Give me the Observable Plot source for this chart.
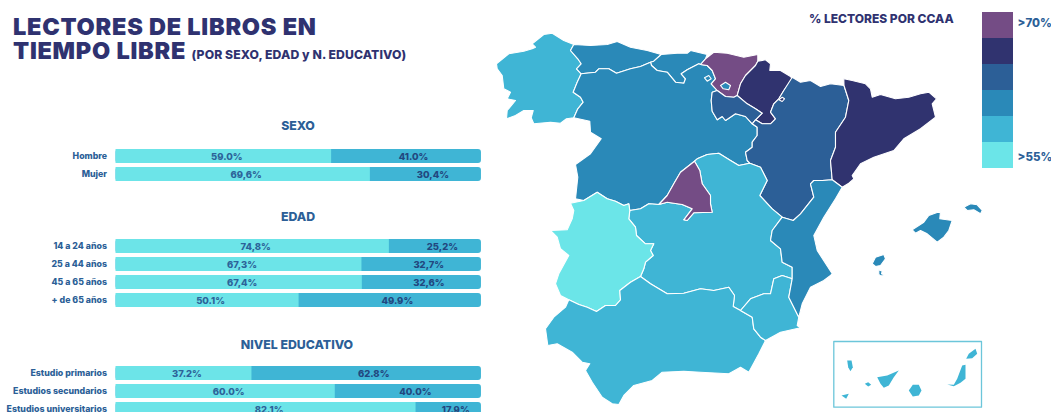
<!DOCTYPE html>
<html lang="es">
<head>
<meta charset="utf-8">
<script src="https://cdn.jsdelivr.net/npm/d3@7"></script>
<script src="https://cdn.jsdelivr.net/npm/@observablehq/plot@0.6"></script>
<style>
html,body{margin:0;padding:0;background:#fff;width:1051px;height:412px;overflow:hidden;font-family:Inter,"Open Sans",sans-serif}
#page{position:relative;width:1051px;height:412px;overflow:hidden}
#page>*{position:absolute}
svg{display:block;overflow:visible}
.title{left:13px;top:15px;font-size:23.5px;line-height:24px;font-weight:900;color:#2f3270;letter-spacing:.75px;white-space:nowrap}
.title small{font-size:12.2px;font-weight:800;letter-spacing:.1px;margin-left:0}
.head{left:115px;width:366px;text-align:center;font-size:12.3px;font-weight:800;color:#2c5f97;line-height:14px}
.lg{left:809px;top:12px;font-size:12px;font-weight:800;color:#2f3270;line-height:13px;white-space:nowrap}
</style>
</head>
<body>
<div id="page">
  <div class="title">LECTORES DE LIBROS EN<br>TIEMPO LIBRE <small>(POR SEXO, EDAD y N. EDUCATIVO)</small></div>
  <div class="head" style="top:119px">SEXO</div>
  <div class="head" style="top:210px">EDAD</div>
  <div class="head" style="top:338px;left:114px">NIVEL EDUCATIVO</div>
  <div class="lg">% LECTORES POR CCAA</div>
</div>
<script>
// ---- Bars ----
const sexoCats = ["Hombre", "Mujer"];
const sexoA = [59.0, 69.6];
const sexoB = [41.0, 30.4];
const sexoLabA = ["59.0%", "69,6%"];
const sexoLabB = ["41.0%", "30,4%"];

const edadCats = ["14 a 24 años", "25 a 44 años", "45 a 65 años", "+ de 65 años"];
const edadA = [74.8, 67.3, 67.4, 50.1];
const edadB = [25.2, 32.7, 32.6, 49.9];
const edadLabA = ["74,8%", "67,3%", "67,4%", "50.1%"];
const edadLabB = ["25,2%", "32,7%", "32,6%", "49.9%"];

const eduCats = ["Estudio primarios", "Estudios secundarios", "Estudios universitarios"];
const eduA = [37.2, 60.0, 82.1];
const eduB = [62.8, 40.0, 17.9];
const eduLabA = ["37.2%", "60.0%", "82.1%"];
const eduLabB = ["62.8%", "40.0%", "17.9%"];

const barColors = ["#6ce4e8", "#3fb5d5"];

// ---- Legend classes (top to bottom) ----
const classes = ["c6", "c5", "c4", "c3", "c2", "c1"];
const classColors = ["#744c85", "#30336f", "#2c5f97", "#2a89b8", "#3fb5d5", "#6be5e8"];
const legendTop = ["c6"];
const legendBottom = ["c1"];
const classLabels = {c6: ">70%", c1: ">55%"};

// ---- Region outlines ----
const galicia = [[531.7,43.3],[543.3,34],[551.7,32.7],[563.3,40],[573.3,44],[570,50],[577.3,58.3],[580.7,63.3],[576,68.3],[580.7,73.3],[576.7,81.7],[572.7,91.7],[580,96.7],[582.7,101.7],[577.3,108.3],[573.3,117.3],[566,118.3],[560,122.7],[550,121.7],[533.3,123.3],[530.7,117.3],[532.7,110],[523.3,110],[515,115],[506,118.3],[506.7,110],[515,100],[506.7,98.3],[510,91.7],[503.3,88.3],[501.7,75],[496.7,68.3],[496,63.3],[508.3,53.3],[523.3,50.7],[531.7,48.3],[535,46.7]];
const asturias = [[573.3,44],[590,45],[606.7,44],[616.7,41],[630,46.7],[646.7,50],[660.7,54],[653.3,60.7],[650,61.7],[640,66],[630,68.3],[616,72.7],[608.3,68.3],[598.3,68.3],[595,71.7],[580.7,73.3],[576,68.3],[580.7,63.3],[577.3,58.3],[570,50]];
const cantabria = [[660.7,54],[676.7,52.7],[686.7,52.7],[690,50],[706.7,54],[705,58.3],[700,64],[698.3,63.3],[686.7,69.3],[680.7,73.3],[685,78.3],[683.3,82.7],[675,81.7],[666.7,71.7],[656.7,70],[651,65],[650,61.7],[653.3,60.7]];
const paisVasco = [[700,64],[705,58.3],[713.3,51.7],[726.7,52.7],[743.3,56.7],[757.3,54],[757.3,60.7],[755,65],[745,75],[740,83.3],[736.7,95],[733.3,96.7],[725,96],[716.7,90],[710.7,83.3],[715,78.3],[711.7,70],[706.7,65]];
const villaverde = [[704,77.3],[708.3,75],[710.7,78.3],[706.7,80.7]];
const trevino = [[720,85],[725,81.7],[730,85],[728.3,89.3],[722.7,88.3]];
const navarra = [[757.3,60.7],[765,59.3],[770,63.3],[769.3,70],[780,70],[790,76],[791.7,78.3],[783.3,90],[778.3,98.3],[773.3,103.3],[770,111.7],[775,118.3],[770,123.3],[761.7,123.3],[755,119.3],[761.7,112.7],[755,108.3],[746.7,103.3],[736.7,95],[740,83.3],[745,75],[755,65]];
const petilla = [[778.3,99.3],[781.7,96.7],[784,98.3],[781.7,101]];
const rioja = [[711.7,91.7],[716.7,90],[725,96],[733.3,96.7],[736.7,95],[746.7,103.3],[755,108.3],[761.7,112.7],[755,119.3],[751.7,123.3],[745,116],[735,113.3],[725,120],[721.7,116],[716.7,119.3],[711.7,110.7],[710.7,100]];
const castillaLeon = [[580.7,73.3],[595,71.7],[598.3,68.3],[608.3,68.3],[616,72.7],[630,68.3],[640,66],[650,61.7],[651,65],[656.7,70],[666.7,71.7],[675,81.7],[683.3,82.7],[685,78.3],[680.7,73.3],[686.7,69.3],[698.3,63.3],[700,64],[706.7,65],[711.7,70],[715,78.3],[710.7,83.3],[716.7,90],[711.7,91.7],[710.7,100],[711.7,110.7],[716.7,119.3],[721.7,116],[725,120],[735,113.3],[745,116],[751.7,123.3],[756.7,126.7],[756.7,135],[751.7,141.7],[751.7,146.7],[745,151.7],[746.7,160],[749.3,162.7],[738.3,165],[730,160],[718.3,152.7],[706.7,154],[696.7,158.3],[694,160.7],[680,171.7],[673.3,183.3],[666.7,195],[658.3,204],[648.3,203.3],[640,208.3],[629.3,210],[628.3,203.3],[623.3,205],[615,200.7],[606.7,198.3],[596.7,191.7],[583.3,200],[575,198.3],[577.3,176.7],[575,164],[590,153.3],[600.7,138.3],[590,131.7],[589.3,120.7],[573.3,117.3],[577.3,108.3],[582.7,101.7],[580,96.7],[572.7,91.7],[576.7,81.7]];
const madrid = [[694,160.7],[699.3,170],[701.7,183.3],[710,195],[710,203.3],[711.7,211.7],[693.3,212.3],[686.7,220],[683.3,219.3],[691.7,208.3],[681.7,204],[666.7,201.7],[658.3,204],[666.7,195],[673.3,183.3],[680,171.7]];
const extremadura = [[570,202.7],[583.3,200],[596.7,191.7],[606.7,198.3],[615,200.7],[623.3,205],[628.3,203.3],[629.3,210],[628.3,218.3],[635,226.7],[636,235],[645,243.3],[653.3,243.3],[650,250],[652.7,255],[645,261.7],[643.3,268.3],[640,276],[630,281.7],[619.3,290],[620,299.3],[615,305],[605,305],[596,311],[586.7,306.7],[578.3,304],[568.3,299.3],[560,295],[555,283.3],[558.3,273.3],[568.3,255],[560,248.3],[556.7,236.7],[550,230],[566.7,229.3],[571.7,218.3],[573.3,210]];
const castillaMancha = [[749.3,162.7],[738.3,165],[730,160],[718.3,152.7],[706.7,154],[696.7,158.3],[694,160.7],[699.3,170],[701.7,183.3],[710,195],[710,203.3],[711.7,211.7],[693.3,212.3],[686.7,220],[683.3,219.3],[691.7,208.3],[681.7,204],[666.7,201.7],[658.3,204],[648.3,203.3],[640,208.3],[629.3,210],[628.3,218.3],[635,226.7],[636,235],[645,243.3],[653.3,243.3],[650,250],[652.7,255],[645,261.7],[643.3,268.3],[640,276],[650,283.3],[666.7,293.3],[683.3,292.7],[700,288.3],[713.3,290],[728.3,286.7],[734,295],[732.7,306],[740,310],[750,298.3],[763.3,293.3],[770,293.3],[773.3,278.3],[781.7,275],[791.7,278.3],[791.7,266.7],[781.7,261.7],[780,248.3],[770,240],[771.7,230],[781.7,216.7],[771.7,208.3],[759.3,195],[766.7,180],[760,166.7]];
const andalucia = [[568.3,299.3],[578.3,304],[586.7,306.7],[596,311],[605,305],[615,305],[620,299.3],[619.3,290],[630,281.7],[640,276],[650,283.3],[666.7,293.3],[683.3,292.7],[700,288.3],[713.3,290],[728.3,286.7],[734,295],[732.7,306],[740,310],[751.7,316.7],[753.3,328.3],[760,336.7],[765,340],[758.3,353.3],[748.3,371.7],[740,366.7],[728.3,373.3],[700,371.7],[683.3,370.7],[661.7,371.7],[651.7,380],[633.3,385],[623.3,395],[618.3,404],[611.7,403.3],[601.7,396.7],[591.7,381.7],[585,370],[589.3,363.3],[581.7,361.7],[571.7,351.7],[556.7,343.3],[547.3,345],[545,328.3],[553.3,316.7],[565,306.7]];
const murcia = [[740,310],[750,298.3],[763.3,293.3],[770,293.3],[773.3,278.3],[781.7,275],[791.7,278.3],[788.3,296.7],[798.3,316.7],[796.7,325],[800,327.3],[780,331.7],[765,340],[760,336.7],[753.3,328.3],[751.7,316.7]];
const valencia = [[813.3,180],[821.7,180],[831.7,179.3],[841.7,186.7],[835,198.3],[823.3,216.7],[813.3,235],[816.7,250],[831.7,273.3],[830,275],[823.3,280],[810,286.7],[801.7,303.3],[798.3,316.7],[788.3,296.7],[791.7,278.3],[791.7,266.7],[781.7,261.7],[780,248.3],[770,240],[771.7,230],[781.7,216.7],[792.7,220],[800,213.3],[813.3,196.7],[810,183.3]];
const aragon = [[791.7,76.7],[800,81.7],[810,80],[820,86],[830,83.3],[843.5,85],[848.3,100],[845,116.7],[835,131.7],[835,146.7],[830,160],[831.7,179.3],[821.7,180],[813.3,180],[810,183.3],[813.3,196.7],[800,213.3],[792.7,220],[781.7,216.7],[771.7,208.3],[759.3,195],[766.7,180],[760,166.7],[749.3,162.7],[746.7,160],[745,151.7],[751.7,146.7],[751.7,141.7],[756.7,135],[756.7,126.7],[751.7,123.3],[755,119.3],[761.7,123.3],[770,123.3],[775,118.3],[770,111.7],[773.3,103.3],[778.3,98.3],[783.3,90]];
const cataluna = [[843.3,78.3],[851.7,80],[865,83.3],[870,88.3],[871.7,96.7],[880,94],[895,98.3],[908.3,96.7],[920,93.3],[928.3,91.7],[936,98.3],[931.7,103.3],[935,116.7],[920,128.3],[903.3,138.3],[893.3,150],[873.3,156.7],[860,163.3],[851.7,175],[853.3,178.3],[848.3,182.7],[841.7,186.7],[831.7,179.3],[830,160],[835,146.7],[835,131.7],[845,116.7],[848.3,100],[843.5,85]];
const mallorca = [[911.7,229.3],[923.3,221.7],[928.3,215],[940,210.7],[939.3,218.3],[951.7,220],[948.3,230],[943.3,236.7],[936.7,241.7],[926.7,233.3],[920,230],[915,232.7]];
const menorca = [[963.3,206.7],[970,203.3],[976.7,204.3],[981.7,210],[980,213.3],[973.3,209.3],[966.7,210]];
const ibiza = [[871.7,263.3],[875,256.7],[883.3,254],[885,258.3],[880,265],[875,266]];
const formentera = [[878.3,274],[878.3,269.3],[881.7,270.7],[881,273.3],[885,275],[880,275.3]];
const laPalma = [[846.7,360],[851,360],[852.3,366.7],[850,370.7],[847.7,366.7]];
const laGomera = [[864.3,383.3],[867.7,381.7],[870.7,384.3],[867.7,386]];
const elHierro = [[841,395],[848.3,393.3],[845.7,398.3]];
const tenerife = [[876.7,376.7],[886.7,375],[898.3,370],[893.3,376.7],[888.3,385],[883.3,387.3],[880,383.3]];
const granCanaria = [[908.3,390],[912.3,384.3],[918.3,384.3],[921,390],[918.3,395],[912.3,396]];
const fuerteventura = [[946.7,384],[953.3,384.3],[956.7,378.3],[961.7,365],[965,364.3],[965,378.3],[960,382.3],[953.3,385.7]];
const lanzarote = [[965.7,358.3],[968.3,353.3],[975,348.3],[976.7,353.3],[971.7,357.7]];
const canariasBox = [[833.3,341],[981,341],[981,406.7],[833.3,406.7]];

const regions = [
  ["Galicia", galicia, "c2"], ["Asturias", asturias, "c3"], ["Cantabria", cantabria, "c3"],
  ["Castilla y León", castillaLeon, "c3"], ["País Vasco", paisVasco, "c6"], ["Villaverde", villaverde, "c3"],
  ["Treviño", trevino, "c3"], ["Navarra", navarra, "c5"], ["La Rioja", rioja, "c4"],
  ["Aragón", aragon, "c4"], ["Petilla", petilla, "c5"], ["Cataluña", cataluna, "c5"], ["Castilla-La Mancha", castillaMancha, "c2"],
  ["Madrid", madrid, "c6"], ["Extremadura", extremadura, "c1"], ["Andalucía", andalucia, "c2"],
  ["Murcia", murcia, "c2"], ["C. Valenciana", valencia, "c3"], ["Mallorca", mallorca, "c3"],
  ["Menorca", menorca, "c3"], ["Ibiza", ibiza, "c3"], ["Formentera", formentera, "c3"]
];
const canaryIslands = [laPalma, laGomera, elHierro, tenerife, granCanaria, fuerteventura, lanzarote];

const poly = (c, p) => ({type: "Feature", properties: p, geometry: {type: "Polygon", coordinates: [[...c, c[0]]]}});
const page = document.getElementById("page");
const place = (el, left, top) => { el.style.left = left + "px"; el.style.top = top + "px"; page.appendChild(el); };

function panel(cats, a, b, labA, labB) {
  const rows = cats.map((c, i) => ({c, a: a[i], b: b[i], la: labA[i], lb: labB[i]}));
  return Plot.plot({
    width: 481, height: cats.length * 18.3,
    marginLeft: 115.5, marginRight: 0, marginTop: 0, marginBottom: 0,
    style: {fontFamily: "Inter, sans-serif", background: "transparent"},
    x: {domain: [0, 100], axis: null},
    y: {domain: cats, paddingInner: 0.235, paddingOuter: 0.1175, label: null},
    marks: [
      Plot.barX(rows, {y: "c", x1: 0, x2: 100, fill: barColors[1], rx: 3}),
      Plot.barX(rows, {y: "c", x1: 0, x2: "a", fill: barColors[0]}),
      Plot.text(rows, {y: "c", x: d => d.a / 2, text: "la", fill: "#2c6399", fontSize: 9.5, fontWeight: 800, dx: 3}),
      Plot.text(rows, {y: "c", x: d => d.a + d.b / 2, text: "lb", fill: "#22477f", fontSize: 9.5, fontWeight: 800, dx: 7}),
      Plot.axisY({tickSize: 0, tickPadding: 9, dy: -0.5, fontSize: 8.8, fontWeight: 800, color: "#2c5f97", label: null})
    ]
  });
}

place(panel(sexoCats, sexoA, sexoB, sexoLabA, sexoLabB), 0, 146.8);
place(panel(edadCats, edadA, edadB, edadLabA, edadLabB), 0, 236.3);
place(panel(eduCats, eduA, eduB, eduLabA, eduLabB), 0, 362.9);

place(Plot.plot({
  width: 1051, height: 412, margin: 0,
  projection: d3.geoIdentity(),
  style: {background: "transparent"},
  color: {type: "ordinal", domain: classes, range: classColors},
  marks: [
    Plot.geo(regions.map(([name, c, k]) => poly(c, {name, k})), {fill: d => d.properties.k, stroke: "#fff", strokeWidth: 1.1}),
    Plot.geo(canaryIslands.map(c => poly(c, {k: "c2"})), {fill: d => d.properties.k}),
    Plot.geo([poly(canariasBox, {})], {fill: "none", stroke: "#6cc6da", strokeWidth: 1.3})
  ]
}), 0, 0);

place(Plot.plot({
  width: 70, height: 160, marginLeft: 0, marginRight: 39, marginTop: 0, marginBottom: 0,
  style: {fontFamily: "Inter, sans-serif", background: "transparent"},
  x: {axis: null},
  y: {domain: classes, padding: 0, label: null},
  color: {type: "ordinal", domain: classes, range: classColors},
  marks: [
    Plot.cell(classes, {y: d => d, fill: d => d}),
    Plot.axisY(legendTop, {anchor: "right", tickSize: 0, tickPadding: 4, dy: -2.5, fontSize: 11.5, fontWeight: 800, color: "#2c5f97", label: null, tickFormat: d => classLabels[d]}),
    Plot.axisY(legendBottom, {anchor: "right", tickSize: 0, tickPadding: 4, dy: 2, fontSize: 11.5, fontWeight: 800, color: "#2c5f97", label: null, tickFormat: d => classLabels[d]})
  ]
}), 981.5, 9.5);
</script>
</body>
</html>
